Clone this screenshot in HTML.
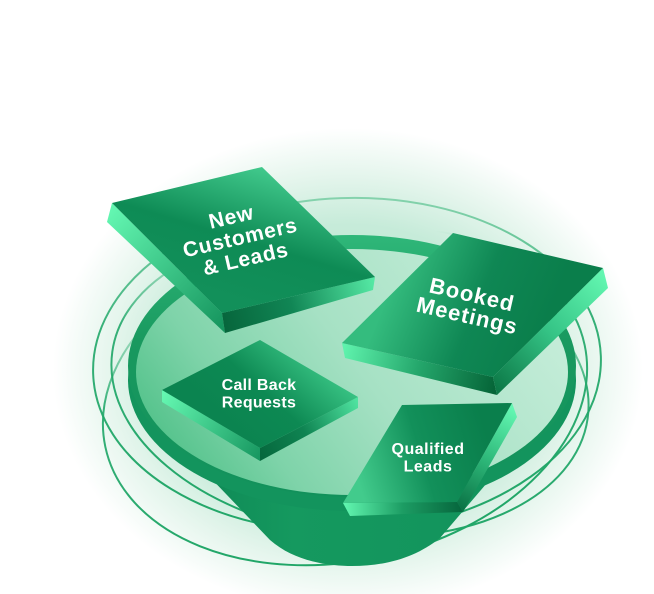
<!DOCTYPE html>
<html><head><meta charset="utf-8">
<style>
html,body{margin:0;padding:0;background:#fff;}
svg{display:block;}
text{font-family:"Liberation Sans",Arial,sans-serif;font-weight:bold;fill:#fff;}
</style></head><body>
<svg width="654" height="594" viewBox="0 0 654 594" xmlns="http://www.w3.org/2000/svg">
<defs>
 <radialGradient id="glow" cx="348" cy="370" r="295" gradientUnits="userSpaceOnUse" gradientTransform="translate(348 370) scale(1 0.82) translate(-348 -370)">
  <stop offset="0" stop-color="#b7e6cf"/>
  <stop offset="0.6" stop-color="#c6ebd9"/>
  <stop offset="0.8" stop-color="#e4f5ec"/>
  <stop offset="1" stop-color="#ffffff"/>
 </radialGradient>
 <linearGradient id="ringg" x1="0" y1="190" x2="0" y2="560" gradientUnits="userSpaceOnUse">
  <stop offset="0" stop-color="#3cb87c" stop-opacity="0.5"/>
  <stop offset="0.35" stop-color="#22a86a" stop-opacity="0.9"/>
  <stop offset="1" stop-color="#1fa566"/>
 </linearGradient>
 <linearGradient id="ringg2" x1="0" y1="190" x2="0" y2="560" gradientUnits="userSpaceOnUse">
  <stop offset="0" stop-color="#3cb87c" stop-opacity="0"/>
  <stop offset="0.17" stop-color="#3cb87c" stop-opacity="0"/>
  <stop offset="0.3" stop-color="#2aae70" stop-opacity="0.45"/>
  <stop offset="0.45" stop-color="#22a86a" stop-opacity="0.9"/>
  <stop offset="1" stop-color="#1fa566"/>
 </linearGradient>
 <linearGradient id="coneg" x1="205" y1="0" x2="498" y2="0" gradientUnits="userSpaceOnUse">
  <stop offset="0" stop-color="#0f8a56"/>
  <stop offset="0.3" stop-color="#15995f"/>
  <stop offset="1" stop-color="#12935c"/>
 </linearGradient>
 <linearGradient id="rimg" x1="0" y1="235" x2="0" y2="497" gradientUnits="userSpaceOnUse">
  <stop offset="0" stop-color="#2fb779"/>
  <stop offset="0.4" stop-color="#19995f"/>
  <stop offset="1" stop-color="#12915b"/>
 </linearGradient>
 <linearGradient id="surf" x1="520" y1="250" x2="200" y2="490" gradientUnits="userSpaceOnUse">
  <stop offset="0" stop-color="#c8eedb"/>
  <stop offset="0.5" stop-color="#a6e1c4"/>
  <stop offset="0.8" stop-color="#7ed3a9"/>
  <stop offset="1" stop-color="#55c38c"/>
 </linearGradient>

 <!-- tile 1 -->
 <linearGradient id="t1top" x1="265" y1="167" x2="225" y2="300" gradientUnits="userSpaceOnUse">
  <stop offset="0" stop-color="#42ca8d"/>
  <stop offset="0.55" stop-color="#0e8b55"/>
  <stop offset="1" stop-color="#12905a"/>
 </linearGradient>
 <linearGradient id="t1l" x1="110" y1="212" x2="224" y2="323" gradientUnits="userSpaceOnUse">
  <stop offset="0" stop-color="#63f6b1"/>
  <stop offset="1" stop-color="#17965f"/>
 </linearGradient>
 <linearGradient id="t1r" x1="224" y1="323" x2="374" y2="284" gradientUnits="userSpaceOnUse">
  <stop offset="0" stop-color="#07663c"/>
  <stop offset="0.45" stop-color="#118655"/>
  <stop offset="1" stop-color="#55e8a4"/>
 </linearGradient>

 <!-- tile 2 -->
 <linearGradient id="t2top" x1="400" y1="265" x2="545" y2="325" gradientUnits="userSpaceOnUse">
  <stop offset="0" stop-color="#34bc7e"/>
  <stop offset="0.55" stop-color="#0f8754"/>
  <stop offset="1" stop-color="#0a7e4b"/>
 </linearGradient>
 <linearGradient id="t2l" x1="343" y1="350" x2="495" y2="386" gradientUnits="userSpaceOnUse">
  <stop offset="0" stop-color="#5ff3ad"/>
  <stop offset="0.5" stop-color="#24a66b"/>
  <stop offset="1" stop-color="#066538"/>
 </linearGradient>
 <linearGradient id="t2r" x1="495" y1="386" x2="606" y2="278" gradientUnits="userSpaceOnUse">
  <stop offset="0" stop-color="#0d7a48"/>
  <stop offset="0.5" stop-color="#35c486"/>
  <stop offset="1" stop-color="#62f6b0"/>
 </linearGradient>

 <!-- tile 3 -->
 <linearGradient id="t3top" x1="305" y1="352" x2="235" y2="430" gradientUnits="userSpaceOnUse">
  <stop offset="0" stop-color="#36c081"/>
  <stop offset="0.55" stop-color="#0d8953"/>
  <stop offset="1" stop-color="#0b8450"/>
 </linearGradient>
 <linearGradient id="t3l" x1="162" y1="396" x2="260" y2="455" gradientUnits="userSpaceOnUse">
  <stop offset="0" stop-color="#64f7b1"/>
  <stop offset="1" stop-color="#189861"/>
 </linearGradient>
 <linearGradient id="t3r" x1="260" y1="455" x2="358" y2="402" gradientUnits="userSpaceOnUse">
  <stop offset="0" stop-color="#06683d"/>
  <stop offset="0.45" stop-color="#0f8452"/>
  <stop offset="1" stop-color="#4fe3a0"/>
 </linearGradient>

 <!-- tile 4 -->
 <linearGradient id="t4top" x1="355" y1="470" x2="485" y2="430" gradientUnits="userSpaceOnUse">
  <stop offset="0" stop-color="#42cb8c"/>
  <stop offset="0.5" stop-color="#12905a"/>
  <stop offset="1" stop-color="#0a7f4c"/>
 </linearGradient>
 <linearGradient id="t4b" x1="346" y1="510" x2="460" y2="507" gradientUnits="userSpaceOnUse">
  <stop offset="0" stop-color="#5ff3ad"/>
  <stop offset="0.5" stop-color="#1c9c63"/>
  <stop offset="1" stop-color="#07683e"/>
 </linearGradient>
 <linearGradient id="t4r" x1="460" y1="507" x2="515" y2="410" gradientUnits="userSpaceOnUse">
  <stop offset="0" stop-color="#0b7446"/>
  <stop offset="0.5" stop-color="#2fba7b"/>
  <stop offset="1" stop-color="#63f7b2"/>
 </linearGradient>
</defs>

<rect width="654" height="594" fill="#ffffff"/>
<rect width="654" height="594" fill="url(#glow)"/>

<!-- orbit rings -->
<g fill="none" stroke-width="2">
 <ellipse cx="347" cy="365" rx="254" ry="167" transform="rotate(-2 347 365)" stroke="url(#ringg)"/>
 <ellipse cx="345" cy="396" rx="245" ry="165" transform="rotate(-12 345 396)" stroke="url(#ringg2)"/>
 <ellipse cx="350" cy="385" rx="240" ry="150" transform="rotate(8 350 385)" stroke="url(#ringg2)"/>
</g>

<!-- funnel cone -->
<path d="M205 472 L270 540 C295 562 330 566 352 566 C385 566 415 558 440 538 L498 470 Z" fill="url(#coneg)"/>

<!-- disk -->
<ellipse cx="352" cy="380" rx="224" ry="131" fill="#13945d"/>
<ellipse cx="352" cy="366" rx="224" ry="131" fill="url(#rimg)"/>
<ellipse cx="352" cy="372" rx="216" ry="123" fill="url(#surf)"/>

<!-- Tile 1: New Customers & Leads -->
<polygon points="112,203 222,313 225,333 107,222" fill="url(#t1l)"/>
<polygon points="222,313 375,277 373,290 225,333" fill="url(#t1r)"/>
<polygon points="112,203 262,167 375,277 222,313" fill="url(#t1top)"/>
<g transform="translate(240 237) rotate(-13)" font-size="21" letter-spacing="0.8" text-anchor="middle">
 <text x="-4" y="-14.5">New</text>
 <text x="0" y="7.5">Customers</text>
 <text x="0.5" y="29.5">&amp; Leads</text>
</g>

<!-- Tile 2: Booked Meetings -->
<polygon points="342,343 493,377 497,395 345,358" fill="url(#t2l)"/>
<polygon points="493,377 603,268 608,288 497,395" fill="url(#t2r)"/>
<polygon points="342,343 453,233 603,268 493,377" fill="url(#t2top)"/>
<g transform="translate(469.5 305.75) rotate(13)" font-size="22" letter-spacing="1" text-anchor="middle">
 <text x="0" y="-4">Booked</text>
 <text x="0" y="17.6">Meetings</text>
</g>

<!-- Tile 3: Call Back Requests -->
<polygon points="162,390 260,448 260,461 162,402" fill="url(#t3l)"/>
<polygon points="260,448 358,397 358,408 260,461" fill="url(#t3r)"/>
<polygon points="260,340 358,397 260,448 162,390" fill="url(#t3top)"/>
<g font-size="16" text-anchor="middle" letter-spacing="0.3">
 <text x="259" y="390">Call Back</text>
 <text x="259" y="407.5">Requests</text>
</g>

<!-- Tile 4: Qualified Leads -->
<polygon points="343,503 457,502 463,512 350,516" fill="url(#t4b)"/>
<polygon points="457,502 512,403 517,417 463,512" fill="url(#t4r)"/>
<polygon points="402,405 512,403 457,502 343,503" fill="url(#t4top)"/>
<g font-size="16" text-anchor="middle" letter-spacing="0.5">
 <text x="428" y="454">Qualified</text>
 <text x="428" y="471.5">Leads</text>
</g>
</svg>
</body></html>
